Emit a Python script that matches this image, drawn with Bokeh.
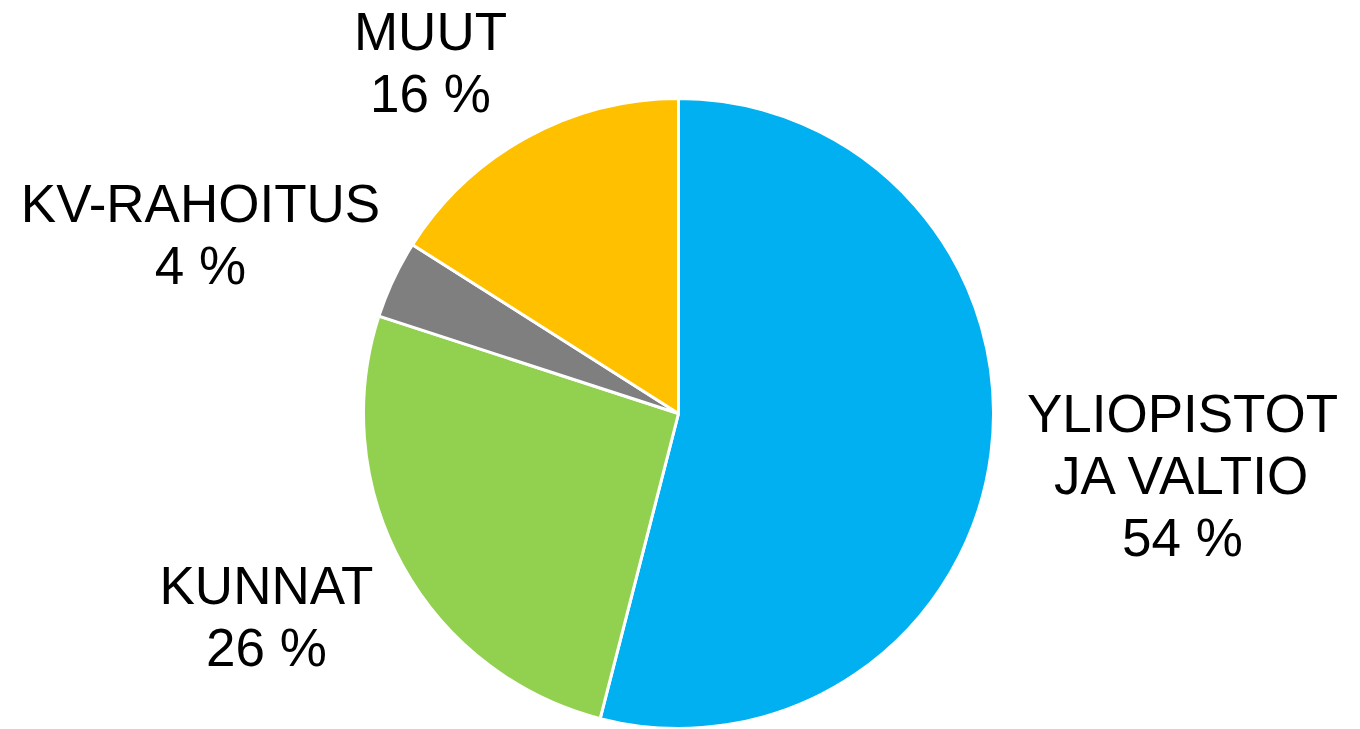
import math
from bokeh.plotting import figure
from bokeh.models import ColumnDataSource, Range1d
from bokeh.core.properties import value
from bokeh.embed import file_html
from bokeh.resources import INLINE

# ---- data ----
categories = ["YLIOPISTOT\nJA VALTIO", "KUNNAT", "KV-RAHOITUS", "MUUT"]
shares = [54, 26, 4, 16]
colors = ["#00B0F0", "#92D050", "#7F7F7F", "#FFC000"]

# ---- layout (styling, pixel space of the figure) ----
W, H = 1360, 729
cx, cy, radius = 678, 316, 315
label_pos = [(1182, 254), (266, 113), (200, 495), (430, 667)]

total = float(sum(shares))
starts, ends = [], []
cum = 0.0
for s in shares:
    a0 = math.pi / 2 - 2 * math.pi * cum / total
    cum += s
    a1 = math.pi / 2 - 2 * math.pi * cum / total
    starts.append(a0)
    ends.append(a1)

src = ColumnDataSource(dict(
    x=[cx] * len(shares), y=[cy] * len(shares),
    start=starts, end=ends, color=colors,
))

p = figure(width=W, height=H, output_backend="svg", toolbar_location=None,
           x_range=Range1d(0, W), y_range=Range1d(0, H),
           min_border=0, outline_line_color=None, tools="")
p.axis.visible = False
p.grid.visible = False
p.background_fill_color = "white"
p.border_fill_color = "white"

p.wedge(x="x", y="y", radius=radius, start_angle="start", end_angle="end",
        direction="clock", fill_color="color", line_color="white",
        line_width=3, source=src)

labels = [f"{c}\n{s} %" for c, s in zip(categories, shares)]
lsrc = ColumnDataSource(dict(
    x=[lp[0] for lp in label_pos], y=[lp[1] for lp in label_pos], text=labels,
))
p.text(x="x", y="y", text="text", source=lsrc,
       text_font=value("Liberation Sans"), text_font_size="53px",
       text_color="black", text_align="center", text_baseline="middle",
       text_line_height=1.05)

open("out.html", "w").write(file_html(p, INLINE))
